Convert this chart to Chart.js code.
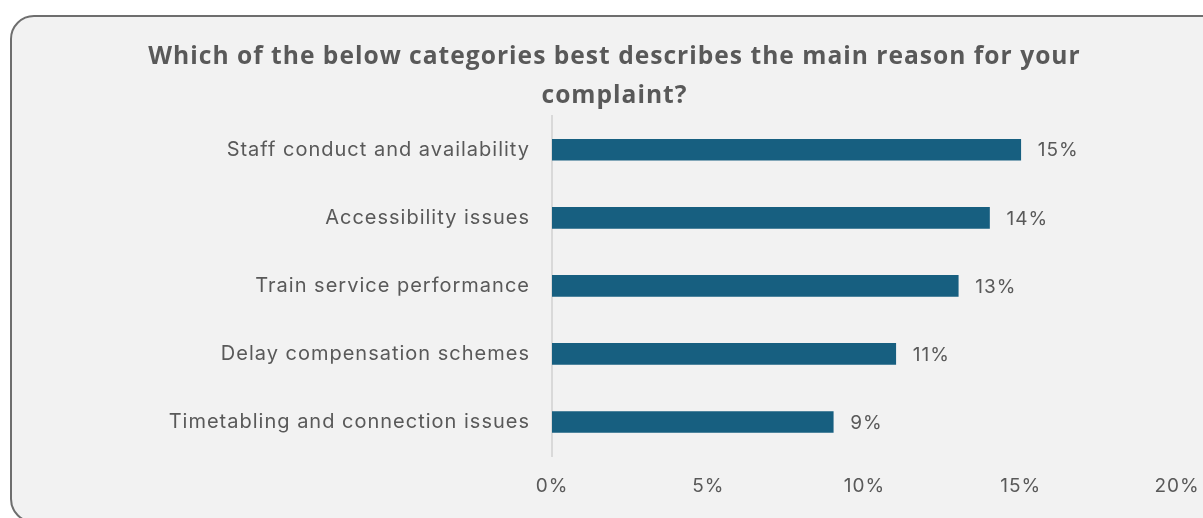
<!DOCTYPE html>
<html lang="en">

<head>
    <meta charset="UTF-8">
    <title>Complaint reasons</title>
    <script src="https://cdn.jsdelivr.net/npm/chart.js@4"></script>
    <style>
        body {
            margin: 0;
            background: #ffffff;
            width: 1203px;
            height: 518px;
            overflow: hidden;
            position: relative;
        }

        .painel {
            position: absolute;
            left: 10px;
            top: 15px;
            width: 1230px;
            height: 504px;
            background: #f2f2f2;
            border: 2px solid #6e6e6e;
            border-radius: 24px;
        }

        #graficoReclamacoes {
            position: absolute;
            left: 0;
            top: 0;
        }
    </style>
</head>

<body>
    <div class="painel"></div>
    <canvas id="graficoReclamacoes" width="1203" height="518"></canvas>
</body>

</html>

<script>
    const categorias = [
        'Staff conduct and availability',
        'Accessibility issues',
        'Train service performance',
        'Delay compensation schemes',
        'Timetabling and connection issues'
    ];
    const percentuais = [15, 14, 13, 11, 9];
    const titulo = ['Which of the below categories best describes the main reason for your', 'complaint?'];

    const cinza = '#595959';
    const fonteTexto = "Inter, 'Open Sans', sans-serif";
    const fonteTitulo = "'Open Sans', 'DejaVu Sans', sans-serif";

    // texto um pouco mais espaçado em todo o gráfico
    const espacamento = {
        id: 'espacamento',
        beforeUpdate(chart) { chart.ctx.letterSpacing = '1px'; },
        beforeDraw(chart) { chart.ctx.letterSpacing = '1px'; }
    };

    // escreve o valor ao lado de cada barra
    const rotulosBarras = {
        id: 'rotulosBarras',
        afterDatasetsDraw(chart) {
            const ctx = chart.ctx;
            const meta = chart.getDatasetMeta(0);
            ctx.save();
            ctx.font = '19px ' + fonteTexto;
            ctx.fillStyle = cinza;
            ctx.textAlign = 'left';
            ctx.textBaseline = 'middle';
            meta.data.forEach(function (barra, i) {
                ctx.fillText(percentuais[i] + '%', barra.x + 17, barra.y + 1);
            });
            ctx.restore();
        }
    };

    new Chart(document.getElementById('graficoReclamacoes'), {
        type: 'bar',
        data: {
            labels: categorias,
            datasets: [{
                data: percentuais,
                backgroundColor: '#175f80',
                barThickness: 21
            }]
        },
        options: {
            indexAxis: 'y',
            responsive: false,
            animation: false,
            devicePixelRatio: 1,
            layout: {
                padding: { left: 52, right: 26, top: 0, bottom: 0 }
            },
            plugins: {
                legend: { display: false },
                tooltip: { enabled: false },
                title: {
                    display: true,
                    text: titulo,
                    color: cinza,
                    font: { family: fonteTitulo, size: 24.6, weight: 'bold', lineHeight: 1.56 },
                    padding: { top: 38, bottom: 1 }
                }
            },
            scales: {
                x: {
                    min: 0,
                    max: 20,
                    grid: { display: false, drawTicks: false },
                    border: { display: false },
                    ticks: {
                        stepSize: 5,
                        color: cinza,
                        padding: 19,
                        font: { family: fonteTexto, size: 19 },
                        callback: function (v) { return v + '%'; }
                    },
                    afterFit: function (escala) {
                        escala.height = 62;
                        escala.paddingLeft = 0;
                        escala.paddingRight = 0;
                    }
                },
                y: {
                    grid: { display: false, drawTicks: false },
                    border: { display: true, color: '#d9d9d9', width: 2 },
                    ticks: {
                        color: cinza,
                        padding: 22,
                        font: { family: fonteTexto, size: 20 }
                    },
                    afterFit: function (escala) { escala.width = 500; }
                }
            }
        },
        plugins: [espacamento, rotulosBarras]
    });
</script>
